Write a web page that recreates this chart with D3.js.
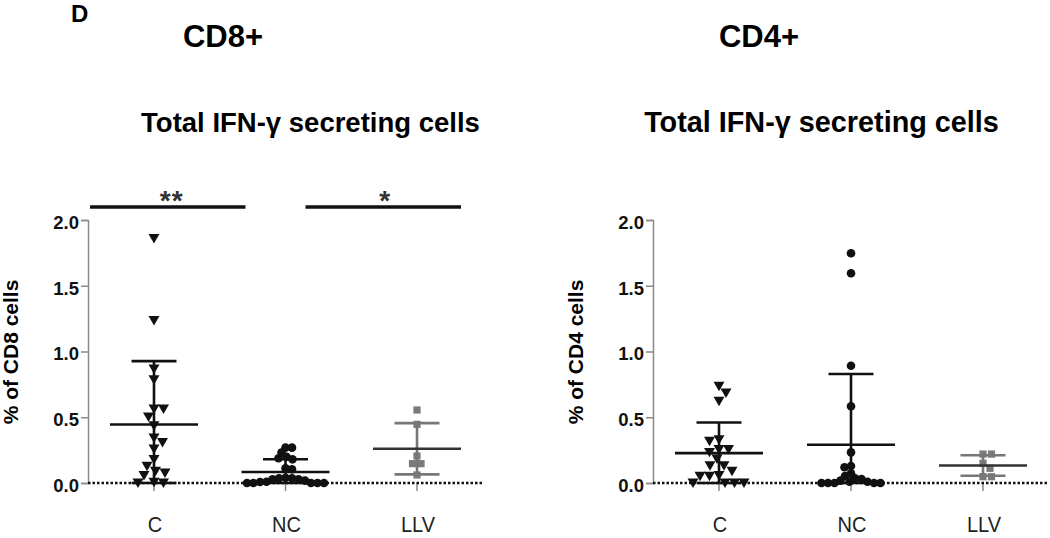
<!DOCTYPE html>
<html>
<head>
<meta charset="utf-8">
<script src="https://cdn.jsdelivr.net/npm/d3@7"></script>
<style>
  html, body { margin: 0; padding: 0; background: #fff; }
  svg { display: block; font-family: "Liberation Sans", Arial, sans-serif; }
</style>
</head>
<body>
<svg id="chart" width="1050" height="538"></svg>
<script>
// ---------- data ----------
const categories = ["C", "NC", "LLV"];
const yTicks = [0, 0.5, 1.0, 1.5, 2.0];
const yTickLabels = ["0.0", "0.5", "1.0", "1.5", "2.0"];

// CD8+ panel, % of CD8 cells
const cd8_C = [1.87, 1.245, 0.877, 0.796, 0.573, 0.573, 0.512, 0.446, 0.352, 0.319, 0.269, 0.188, 0.137, 0.099, 0.086, 0.068, 0.015, 0.01, 0.01];
const cd8_NC = [0.269, 0.269, 0.231, 0.2, 0.188, 0.18, 0.112, 0.105, 0.04, 0.036, 0.036, 0.028, 0.028, 0.018, 0.01, 0.008, 0, 0, 0, 0, 0];
const cd8_LLV = [0.555, 0.446, 0.205, 0.147, 0.147, 0.061];

// CD4+ panel, % of CD4 cells
const cd4_C = [0.745, 0.694, 0.631, 0.34, 0.327, 0.264, 0.264, 0.243, 0.193, 0.142, 0.142, 0.099, 0.068, 0.061, 0.061, 0.01, 0.01, 0.01, 0.01];
const cd4_NC = [1.747, 1.595, 0.892, 0.583, 0.233, 0.129, 0.12, 0.073, 0.053, 0.036, 0.03, 0.018, 0.01, 0.01, 0, 0, 0, 0, 0];
const cd4_LLV = [0.22, 0.22, 0.15, 0.112, 0.048, 0.048];

// significance brackets in CD8 panel
const sigPairs = [["C", "NC", "**"], ["NC", "LLV", "*"]];

const panelTitles = ["CD8+", "CD4+"];
const subTitle = "Total IFN-\u03b3 secreting cells";
const yTitles = ["% of CD8 cells", "% of CD4 cells"];
// --------------------------------------------------

const svg = d3.select("#chart");
const FONT = '"Liberation Sans", Arial, sans-serif';

const symbolTypes = { C: d3.symbolTriangle, NC: d3.symbolCircle, LLV: d3.symbolSquare };
const symbolSizes = { C: 52, NC: 58, LLV: 52 };
const pointColor = { C: "#111", NC: "#111", LLV: "#7a7a7a" };
const barColor = { C: "#111", NC: "#111", LLV: "#777" };
const meanColor = { C: "#111", NC: "#111", LLV: "#333" };
const swarmDist = { C: 9.5, NC: 6.2, LLV: 8.5 };

function swarm(values, y, minDist) {
  const order = values.map((v, i) => i).sort((a, b) => values[b] - values[a]);
  const placed = [];
  const offs = new Array(values.length).fill(0);
  const step = 0.5;
  order.forEach((i, n) => {
    const py = y(values[i]);
    const sgn = n % 2 ? 1 : -1;
    for (let k = 0; k < 400; k++) {
      const m = Math.ceil(k / 2);
      const cand = k === 0 ? 0 : (k % 2 ? sgn * m * step : -sgn * m * step);
      if (placed.every(p => Math.hypot(p.x - cand, p.y - py) >= minDist)) {
        offs[i] = cand; placed.push({ x: cand, y: py }); break;
      }
    }
  });
  return offs;
}

const panels = [
  { axisX: 88, xRange: [154, 417], baseEnd: 483, series: { C: cd8_C, NC: cd8_NC, LLV: cd8_LLV },
    title: panelTitles[0], titleX: 223, sub: subTitle, subX: 310.5, subSize: 27.5, yTitle: yTitles[0], yTitleX: 18, sig: true },
  { axisX: 653, xRange: [719, 983], baseEnd: 1048, series: { C: cd4_C, NC: cd4_NC, LLV: cd4_LLV },
    title: panelTitles[1], titleX: 759, sub: subTitle, subX: 821.5, subSize: 28.8, yTitle: yTitles[1], yTitleX: 583, sig: false }
];

// panel letter
svg.append("text").attr("x", 71).attr("y", 22)
  .attr("font-size", 24).attr("font-weight", "bold").attr("font-family", FONT).text("D");

panels.forEach(p => {
  const y = d3.scaleLinear().domain([0, 2]).range([483, 220]);
  const x = d3.scalePoint().domain(categories).range(p.xRange);
  const g = svg.append("g");

  // titles
  g.append("text").attr("x", p.titleX).attr("y", 47).attr("text-anchor", "middle")
    .attr("font-size", 31).attr("font-weight", "bold").attr("font-family", FONT).text(p.title);
  g.append("text").attr("x", p.subX).attr("y", 132).attr("text-anchor", "middle")
    .attr("font-size", p.subSize).attr("font-weight", "bold").attr("font-family", FONT).text(p.sub);

  // y axis
  const yAxis = d3.axisLeft(y).tickValues(yTicks).tickFormat((d, i) => yTickLabels[i])
    .tickSize(7).tickPadding(2);
  const ya = g.append("g").attr("transform", `translate(${p.axisX},0)`).call(yAxis);
  ya.select(".domain").attr("stroke", "#8a8a8a").attr("stroke-width", 1.5);
  ya.selectAll(".tick line").attr("stroke", "#8a8a8a").attr("stroke-width", 1.5);
  ya.selectAll(".tick text").attr("font-size", 18.5).attr("font-weight", "bold")
    .attr("font-family", FONT).attr("fill", "#111").attr("dy", "0.45em");

  // y title
  g.append("text")
    .attr("transform", `translate(${p.yTitleX},352) rotate(-90)`)
    .attr("text-anchor", "middle").attr("font-size", 21).attr("font-weight", "bold")
    .attr("font-family", FONT).text(p.yTitle);

  // x ticks (small gray) and labels
  const xa = g.append("g");
  categories.forEach(c => {
    xa.append("line").attr("x1", x(c)).attr("x2", x(c)).attr("y1", y(0)).attr("y2", y(0) + 8)
      .attr("stroke", "#8a8a8a").attr("stroke-width", 1.5);
    xa.append("text").attr("transform", `translate(${x(c) + 1},532) scale(1,1.1)`)
      .attr("text-anchor", "middle")
      .attr("font-size", 20).attr("font-family", FONT).attr("fill", "#222").text(c);
  });

  // points
  categories.forEach(c => {
    const vals = p.series[c];
    const offs = swarm(vals, y, swarmDist[c]);
    const sym = d3.symbol().type(symbolTypes[c]).size(symbolSizes[c]);
    g.append("g").selectAll("path").data(vals).join("path")
      .attr("d", sym)
      .attr("transform", (d, i) => `translate(${x(c) + offs[i]},${y(d)})` + (c === "C" ? " rotate(180)" : ""))
      .attr("fill", pointColor[c]);
  });

  // baseline dotted
  g.append("line").attr("x1", p.axisX).attr("x2", p.baseEnd).attr("y1", y(0)).attr("y2", y(0))
    .attr("stroke", "#111").attr("stroke-width", 2.5).attr("stroke-dasharray", "2.5,2");

  // mean +- SD
  categories.forEach(c => {
    const vals = p.series[c];
    const m = d3.mean(vals), sd = d3.deviation(vals);
    const hi = m + sd, lo = Math.max(0, m - sd);
    const cx = x(c);
    const eg = g.append("g").attr("stroke-width", 2.6).attr("fill", "none");
    eg.append("line").attr("x1", cx).attr("x2", cx).attr("y1", y(hi)).attr("y2", y(lo)).attr("stroke", barColor[c]);
    eg.append("line").attr("x1", cx - 22.5).attr("x2", cx + 22.5).attr("y1", y(hi)).attr("y2", y(hi)).attr("stroke", barColor[c]);
    eg.append("line").attr("x1", cx - 22.5).attr("x2", cx + 22.5).attr("y1", y(lo)).attr("y2", y(lo)).attr("stroke", barColor[c]);
    eg.append("line").attr("x1", cx - 44).attr("x2", cx + 44).attr("y1", y(m)).attr("y2", y(m)).attr("stroke", meanColor[c]);
  });

  // significance
  if (p.sig) {
    const lineY = 207;
    sigPairs.forEach(([a, b, s], i) => {
      const x1 = i === 0 ? x(a) - 64 : x(a) + 20;
      const x2 = i === 0 ? x(b) - 40 : x(b) + 44;
      g.append("line").attr("x1", x1).attr("x2", x2).attr("y1", lineY).attr("y2", lineY)
        .attr("stroke", "#111").attr("stroke-width", 3.5);
      g.append("text").attr("x", (x1 + x2) / 2 + (i === 0 ? 4 : 2)).attr("y", 210).attr("text-anchor", "middle")
        .attr("font-size", 28).attr("font-weight", "bold").attr("font-family", FONT)
        .attr("letter-spacing", 1).attr("fill", "#333").text(s);
    });
  }
});
</script>
</body>
</html>
